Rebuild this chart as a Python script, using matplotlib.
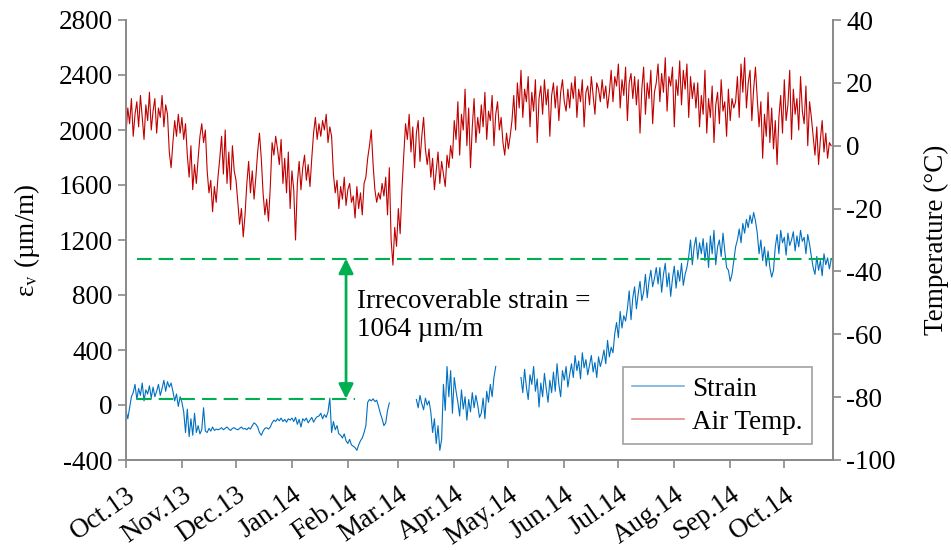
import numpy as np
import matplotlib
matplotlib.use("Agg")
import matplotlib.pyplot as plt
from matplotlib.lines import Line2D

plt.rcParams['font.family'] = ['Liberation Serif', 'DejaVu Serif']
plt.rcParams['mathtext.fontset'] = 'stix'
plt.rcParams['axes.unicode_minus'] = False

# month ticks (days since 1 Oct 2013)
month_days = [0, 31, 61, 92, 123, 151, 182, 212, 243, 273, 304, 335, 365]
month_labels = ['Oct.13', 'Nov.13', 'Dec.13', 'Jan.14', 'Feb.14', 'Mar.14', 'Apr.14',
                'May.14', 'Jun.14', 'Jul.14', 'Aug.14', 'Sep.14', 'Oct.14']

# daily air temperature (°C), day 0 = 1 Oct 2013
air_temp = [
    4, 12, 7, 15, 3, 10, 14, 6, 16, 9, 2, 13, 8, 17, 5, 11, 15, 4, 12, 9, 16, 6, 13, 10,
    -2, -7, 1, 8, 3, 10, 4, 9, 2, 7,
    -3, -10, 0, -14, -6, -12, -4,
    3, 7, 1, 5,
    -8, -15, -11, -21, -13, -18, -10,
    -4, 3, -9, 5, -12, -2, -14, 0, -8, -11,
    -18, -25, -20, -29, -22,
    -12, -5, -15, -8, -17, -10,
    -2, 4, -4,
    -15, -22, -17, -24, -13,
    1, -3, 3, -1,
    -6, 2, -12, -4, -15, -2, -20, -8, -14, -30,
    -12, -5, -14, -7, -3, -11, -6, -13, -4,
    4, 9, 2, 7, 3, 8, 5, 10, 1, 6, 3,
    -9, -15, -11, -20, -13, -17, -10, -19, -14, -12, -18,
    -16, -23, -13, -20, -15, -22, -12, -10, -4, 0, 5,
    -6, -14, -18, -15, -17, -12, -16,
    -10, -22, -7, -30, -38, -26,
    -32, -20, -28, -14, -3, 7,
    2, 10, -2, 6, -7, 4, 8, -5, 3, 9, -1,
    -6, -1, -10, -4, -14, -8, -2, -12, -5, -9, -13, -3, -7, 0,
    -4, 8, 2, 14, -3, 10, 5, 18, 0, 12, -7, 6, 15, 1, 9,
    4, 13, 6, 17, 2, 11, 8, 16, 0, 10, 14, 5, 9,
    1, -3, 4, -1, 3,
    8, 16, 5, 20, 12, 24, 9, 18, 14, 22, 6, 17, 11, 21, 1, 15, 19,
    10, 21, 13, 18, 3, 16, 20, 12, 19, 8, 17, 21, 14, 11, 18,
    12, 20, 15, 22, 9, 18, 14, 21, 6, 17, 19, 13, 22, 16, 10, 20, 18, 14, 21, 15, 19, 12,
    17, 24, 14, 22, 19, 26, 12, 21, 16, 25, 8, 20, 23, 15, 22,
    13, 21, 4, 18, 25, 10, 20, 15, 24, 7, 17,
    20, 26, 14, 23, 17, 28, 11, 22, 19, 25, 6, 21, 16, 27, 13, 24, 18, 26, 9, 22, 15, 20,
    12, 20, 6, 16, 10, 24, 4, 15, 9, 19, 1, 13, 17, 7, 21, 11, 14, 3, 18, 8, 15, 12,
    14, 22, 9, 26, 17, 28, 12, 20, 24, 8, 18, 25, 15,
    6, 14, -4, 10, 3, 17, 1, 12, -1, 8,
    -6, 9, 16, 4, 21, 8, 13, 24, 2, 18, 10, 15, 5, 22, 11, 7, 19, 0, 14, 9,
    3, -3, 6, -6, 2, 8, -2, 4, -4, 1, 0,
]

# vertical strain (µm/m), three recorded stretches with gaps between them
strain_start1 = 0
strain_seg1 = [
    -40, -100, -20, 60,
    90, 150, 40, 120, 70, 160, 30, 110, 80, 140, 50, 130, 60, 100, 150, 70,
    120, 180, 100, 170, 130, 160,
    100, 30, 80, -10, 60, 20,
    -50, -200, -30, -230,
    -100, -220, -60, -200, -150,
    -210, -180, -20, -190,
    -200, -170, -190, -160, -185, -175, -180,
    -175, -165, -180, -170, -160, -175, -185, -170, -165, -175, -180, -170, -160, -175,
    -170, -180, -165, -175,
    -150, -130, -140, -160, -200, -220, -190, -170,
    -165, -175, -160, -130, -110, -120, -100,
    -115, -95, -120, -105, -125, -100, -110, -95,
    -120, -90, -140, -105, -160, -100, -115, -95, -130, -110, -90, -125, -100, -85,
    -80, -60, -100, -70, -90, -50,
    50, -200, -120, -180, -150, -210,
    -220, -240, -210, -260, -280, -250, -290, -300, -310, -330, -290, -260,
    -240, -200, -150,
    20, 40, 30, 45, 25, 35,
    -10, -60, -100, -150, -130,
    -40, 15,
]
strain_start2 = 161
strain_seg2 = [
    40, -20, 70, 10, -35, 50, 0, 30,
    -50, -200, -100, -280, -150, -330, -250,
    150, -40, 280, 60, 250, -60, 200, 100,
    20, -80, 110, -30, 60, -110, 40, -50, 90, -20, 70, 0, -90,
    -60, 50, -100, 100, 20, 150, 60, 200, 280,
]
strain_start3 = 219
strain_seg3 = [
    200, 90, 260, 130, 40, 220, 150, 280, 100, 190, -15, 160, 60, 230, 120, 20, 180, 90,
    240, 100, 300, 150, 60, 250, 180, 280, 130, 220,
    300, 200, 360, 250, 320, 190, 380, 270, 330, 220, 290, 360, 240, 310, 200, 350, 280, 330,
    400, 300, 470, 350, 420, 380,
    520, 600, 490, 680, 560, 650, 610,
    700, 830, 620, 780, 860, 700, 810, 900, 760,
    820, 950, 780, 900, 980, 860, 920, 1000,
    880, 1000, 820, 950, 1030, 860, 960, 790, 920, 1010, 850, 980, 900, 1030, 870, 950, 1000,
    1080, 1200, 1020, 1150, 1220, 1060, 1180, 1100, 1210,
    1050, 1180, 1000, 1230, 1100, 1270, 1020, 1150, 1200, 1080, 1250, 1120, 1000,
    980, 900, 950, 1050, 1150,
    1200, 1280, 1180, 1320, 1250, 1350, 1290, 1380, 1320, 1400, 1340,
    1250, 1100, 1200, 1050, 1150, 1010, 1120,
    1000, 930, 980,
    1150, 1240, 1100, 1270, 1180, 1220, 1090, 1250, 1160, 1200, 1260, 1120, 1230, 1150,
    1270, 1190, 1220, 1100, 1240, 1170, 1080,
    1000, 950, 1080, 980, 1050, 940, 1100, 1020, 1070, 990, 1060,
]

# irrecoverable strain guide lines
base_level = 45
top_level = 1065
base_line_days = (6, 127)
top_line_days = (6, 392)
arrow_day = 122

# assemble the strain series with NaN in the gaps
n_days = len(air_temp)
strain = np.full(n_days, np.nan)
for start, seg in [(strain_start1, strain_seg1), (strain_start2, strain_seg2),
                   (strain_start3, strain_seg3)]:
    strain[start:start + len(seg)] = seg
days = np.arange(n_days)

red = '#C00000'
blue = '#0070C0'
green = '#00B050'
grey = '#898989'
fs = 19.5

fig = plt.figure(figsize=(9.51, 5.5), dpi=100)
ax = fig.add_axes([126 / 951, 1 - 460 / 550, 707 / 951, 440 / 550])
ax2 = ax.twinx()

ax.plot(days, strain, color=blue, lw=0.8, zorder=3)
ax2.plot(days, air_temp, color=red, lw=0.8)

ax.plot(base_line_days, [base_level, base_level], color=green, lw=1.5, dashes=(7, 3.4), zorder=4)
ax.plot(top_line_days, [top_level, top_level], color=green, lw=1.5, dashes=(7, 3.4), zorder=4)
ax.annotate('', xy=(arrow_day, top_level), xytext=(arrow_day, base_level),
            arrowprops=dict(arrowstyle='<|-|>', color=green, lw=2,
                            mutation_scale=22, shrinkA=0, shrinkB=0), zorder=5)
ax.text(arrow_day + 6, 650, 'Irrecoverable strain =\n1064 \u00b5m/m', fontsize=fs,
        va='center', ha='left', linespacing=1.15, zorder=5)

ax.set_xlim(0, 392)
ax.set_ylim(-400, 2800)
ax.set_yticks(np.arange(-400, 2801, 400))
ax2.set_ylim(-100, 40)
ax2.set_yticks(np.arange(-100, 41, 20))
ax.set_xticks(month_days)
ax.set_xticklabels(month_labels, rotation=35, ha='right', rotation_mode='anchor')

for a in (ax, ax2):
    a.spines['top'].set_visible(False)
    for s in ('left', 'right', 'bottom'):
        a.spines[s].set_color(grey)
        a.spines[s].set_linewidth(1.2)
    a.tick_params(colors=grey, labelcolor='black', labelsize=fs, length=6, width=1.2)
ax.tick_params(axis='x', pad=10)

ax.set_ylabel('\u03b5$_\\mathrm{v}$ (\u00b5m/m)', fontsize=fs, labelpad=12)
ax2.set_ylabel('Temperature (\u00b0C)', fontsize=fs, labelpad=20)

handles = [Line2D([], [], color=blue, lw=1.2, alpha=0.55),
           Line2D([], [], color=red, lw=1.2, alpha=0.45)]
leg = ax2.legend(handles, ['Strain', 'Air Temp.'], loc='lower right',
                 bbox_to_anchor=(0.97, 0.036), fontsize=fs, frameon=True,
                 fancybox=False, edgecolor=grey, handlelength=1.9, handletextpad=0.3,
                 borderpad=0.35, labelspacing=0.3, borderaxespad=0)
leg.get_frame().set_linewidth(1.2)

fig.savefig('out.png', dpi=100)
